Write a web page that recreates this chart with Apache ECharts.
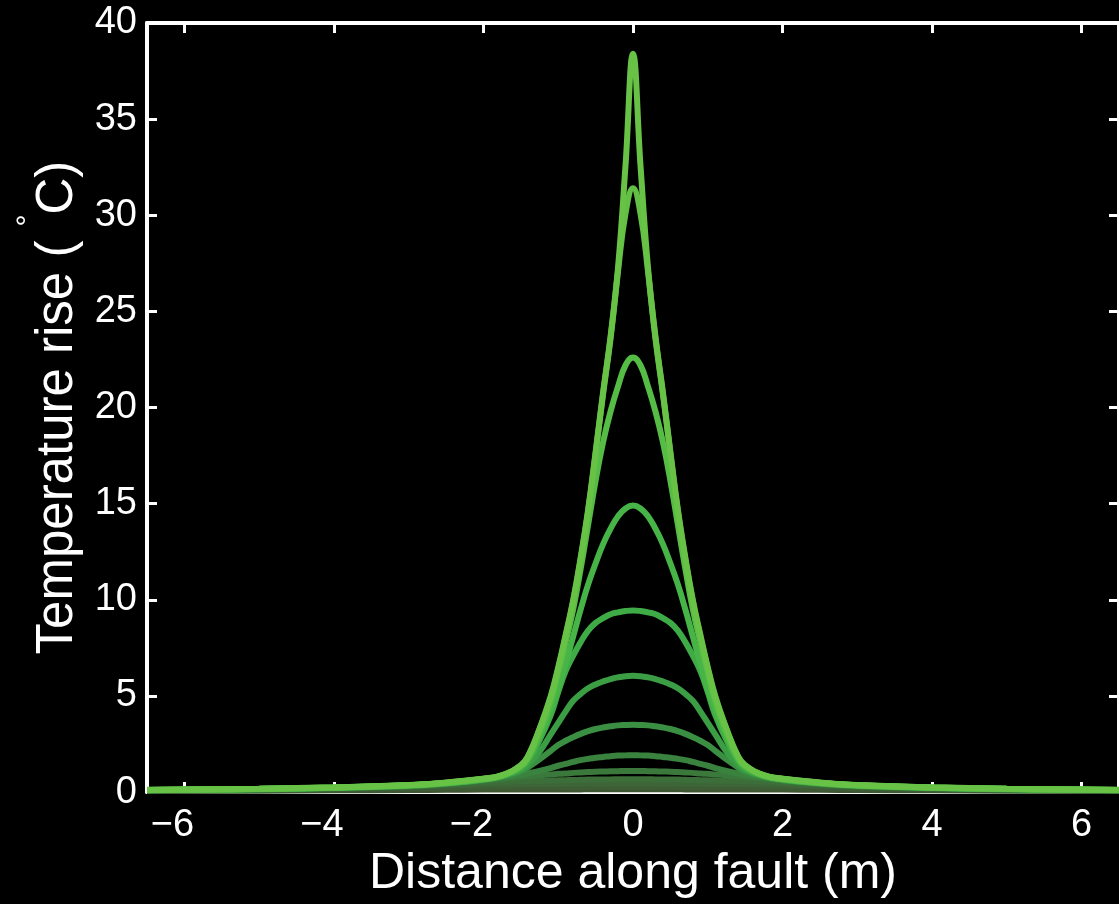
<!DOCTYPE html>
<html>
<head>
<meta charset="utf-8">
<script src="https://cdn.jsdelivr.net/npm/echarts@6/dist/echarts.min.js"></script>
<style>
html, body { margin: 0; padding: 0; background: #000; }
#chart { width: 1119px; height: 904px; }
</style>
</head>
<body>
<div id="chart"></div>
<script>
// distance along fault (m), shared by every profile
var xs = [-6.5,-5,-4,-3,-2.5,-2,-1.75,-1.5,-1.4,-1.25,-1.1,-1,-0.9,-0.8,-0.7,-0.6,-0.5,-0.4,-0.3,-0.2,-0.1,0,0.1,0.2,0.3,0.4,0.5,0.6,0.7,0.8,0.9,1,1.1,1.25,1.4,1.5,1.75,2,2.5,3,4,5,6.5]

// temperature rise profiles (deg C), smallest first
var t13 = [0.06,0.07,0.09,0.11,0.12,0.13,0.13,0.14,0.14,0.14,0.14,0.14,0.14,0.14,0.14,0.15,0.15,0.15,0.15,0.15,0.15,0.15,0.15,0.15,0.15,0.15,0.15,0.15,0.14,0.14,0.14,0.14,0.14,0.14,0.14,0.14,0.13,0.13,0.12,0.11,0.09,0.07,0.06]
var t12 = [0.08,0.11,0.15,0.2,0.23,0.25,0.25,0.26,0.26,0.26,0.26,0.27,0.27,0.27,0.27,0.27,0.28,0.28,0.28,0.28,0.28,0.28,0.28,0.28,0.28,0.28,0.28,0.27,0.27,0.27,0.27,0.27,0.26,0.26,0.26,0.26,0.25,0.25,0.23,0.2,0.15,0.11,0.08]
var t11 = [0.09,0.13,0.19,0.27,0.33,0.38,0.4,0.41,0.41,0.42,0.42,0.42,0.43,0.43,0.43,0.44,0.44,0.44,0.45,0.45,0.45,0.45,0.45,0.45,0.45,0.44,0.44,0.44,0.43,0.43,0.43,0.42,0.42,0.42,0.41,0.41,0.4,0.38,0.33,0.27,0.19,0.13,0.09]
var t10 = [0.09,0.14,0.2,0.3,0.4,0.5,0.54,0.57,0.58,0.59,0.6,0.61,0.62,0.63,0.64,0.65,0.65,0.66,0.66,0.67,0.67,0.67,0.67,0.67,0.66,0.66,0.65,0.65,0.64,0.63,0.62,0.61,0.6,0.59,0.58,0.57,0.54,0.5,0.4,0.3,0.2,0.14,0.09]
var t9 = [0.09,0.14,0.21,0.31,0.43,0.6,0.7,0.8,0.83,0.88,0.92,0.95,0.97,1.0,1.02,1.04,1.06,1.07,1.08,1.09,1.1,1.1,1.1,1.09,1.08,1.07,1.06,1.04,1.02,1.0,0.97,0.95,0.92,0.88,0.83,0.8,0.7,0.6,0.43,0.31,0.21,0.14,0.09]
var t8 = [0.1,0.15,0.21,0.32,0.44,0.62,0.76,0.9,0.98,1.1,1.25,1.37,1.47,1.57,1.66,1.73,1.79,1.83,1.87,1.9,1.91,1.92,1.91,1.9,1.87,1.83,1.79,1.73,1.66,1.57,1.47,1.37,1.25,1.1,0.98,0.9,0.76,0.62,0.44,0.32,0.21,0.15,0.1]
var t7 = [0.1,0.15,0.22,0.33,0.45,0.64,0.8,1.08,1.3,1.7,2.15,2.45,2.67,2.86,3.03,3.17,3.28,3.36,3.42,3.47,3.49,3.5,3.49,3.47,3.42,3.36,3.28,3.17,3.03,2.86,2.67,2.45,2.15,1.7,1.3,1.08,0.8,0.64,0.45,0.33,0.22,0.15,0.1]
var t6 = [0.1,0.16,0.22,0.34,0.46,0.65,0.83,1.15,1.45,2.1,3.0,3.6,4.2,4.75,5.1,5.4,5.6,5.75,5.88,5.97,6.03,6.05,6.03,5.97,5.88,5.75,5.6,5.4,5.1,4.75,4.2,3.6,3.0,2.1,1.45,1.15,0.83,0.65,0.46,0.34,0.22,0.16,0.1]
var t5 = [0.11,0.16,0.23,0.34,0.46,0.66,0.84,1.25,1.65,2.7,4.0,5.2,6.3,7.1,7.8,8.4,8.8,9.05,9.25,9.35,9.42,9.45,9.42,9.35,9.25,9.05,8.8,8.4,7.8,7.1,6.3,5.2,4.0,2.7,1.65,1.25,0.84,0.66,0.46,0.34,0.23,0.16,0.11]
var t4 = [0.11,0.16,0.23,0.35,0.47,0.67,0.85,1.3,1.75,2.9,4.3,5.4,6.7,8.1,9.5,10.8,11.9,12.9,13.7,14.35,14.75,14.9,14.75,14.35,13.7,12.9,11.9,10.8,9.5,8.1,6.7,5.4,4.3,2.9,1.75,1.3,0.85,0.67,0.47,0.35,0.23,0.16,0.11]
var t3 = [0.11,0.17,0.24,0.35,0.48,0.68,0.86,1.35,1.8,3.1,4.7,6.2,7.8,9.5,11.6,13.9,16.2,18.2,19.8,21.1,22.2,22.6,22.2,21.1,19.8,18.2,16.2,13.9,11.6,9.5,7.8,6.2,4.7,3.1,1.8,1.35,0.86,0.68,0.48,0.35,0.24,0.17,0.11]
var t2 = [0.11,0.17,0.24,0.36,0.49,0.69,0.87,1.38,1.88,3.25,4.9,6.4,8.1,9.9,12.1,14.6,17.6,20.7,23.6,27.1,30.1,31.4,30.1,27.1,23.6,20.7,17.6,14.6,12.1,9.9,8.1,6.4,4.9,3.25,1.88,1.38,0.87,0.69,0.49,0.36,0.24,0.17,0.11]
var t1 = [0.12,0.18,0.25,0.37,0.5,0.7,0.88,1.4,1.9,3.3,5.0,6.5,8.2,10.0,12.2,14.7,17.7,20.8,23.7,27.3,32.6,38.4,32.6,27.3,23.7,20.8,17.7,14.7,12.2,10.0,8.2,6.5,5.0,3.3,1.9,1.4,0.88,0.7,0.5,0.37,0.25,0.18,0.12]

var profiles = [t13, t12, t11, t10, t9, t8, t7, t6, t5, t4, t3, t2, t1]
var colors = ['#3f5633', '#3e5d35', '#3d6537', '#3c6e39', '#3b783c', '#3a833f', '#3a8f42', '#3b9e45', '#3fab47', '#47b447', '#55bc46', '#62c045', '#67c246']

var xTicks = [-6, -4, -2, 0, 2, 4, 6]

var font = '"Liberation Sans", Arial, Helvetica, sans-serif'

function tickLabel(v) {
	// matlab prints a real minus sign, and centres the digits rather than the whole label
	if (v < 0) return '{n|\u2212' + Math.abs(v) + '}'
	return String(v)
}

function getSeries() {
	var arr = []
	for (var i = 0; i < profiles.length; i++) {
		var pts = []
		for (var j = 0; j < xs.length; j++) {
			pts.push([xs[j], profiles[i][j]])
		}
		arr.push({
			type: 'line',
			data: pts,
			smooth: 0.45,
			showSymbol: false,
			z: 2 + i,
			lineStyle: { color: colors[i], width: 6 }
		})
	}
	return arr
}

var axisLine = { show: true, onZero: false, lineStyle: { color: '#fff', width: 4 } }
var axisTick = { show: true, inside: true, length: 10, lineStyle: { color: '#fff', width: 3 } }

var chart = echarts.init(document.getElementById('chart'))
chart.setOption({
	backgroundColor: '#000',
	animation: false,
	grid: { left: 147, top: 23, width: 980, height: 772, containLabel: false },
	xAxis: [
		{
			type: 'value',
			min: -6.5,
			max: 6.5,
			position: 'bottom',
			axisLine: axisLine,
			axisTick: Object.assign({ customValues: xTicks }, axisTick),
			splitLine: { show: false },
			axisLabel: {
				customValues: xTicks,
				color: '#fff',
				fontSize: 38,
				fontFamily: font,
				margin: 14,
				formatter: tickLabel,
				rich: {
					n: { color: '#fff', fontSize: 38, fontFamily: font, padding: [0, 24, 0, 0] }
				}
			},
			name: 'Distance along fault (m)',
			nameLocation: 'middle',
			nameGap: 48,
			nameTextStyle: { color: '#fff', fontSize: 50, fontFamily: font }
		},
		{
			type: 'value',
			min: -6.5,
			max: 6.5,
			position: 'top',
			axisLine: axisLine,
			axisTick: Object.assign({ customValues: xTicks }, axisTick),
			axisLabel: { show: false },
			splitLine: { show: false }
		}
	],
	yAxis: [
		{
			type: 'value',
			min: 0,
			max: 40,
			interval: 5,
			position: 'left',
			axisLine: axisLine,
			axisTick: axisTick,
			splitLine: { show: false },
			axisLabel: { color: '#fff', fontSize: 38, fontFamily: font, margin: 10 },
			name: '{t|Temperature rise ( }{d|°}{t|C)}',
			nameLocation: 'middle',
			nameRotate: 90,
			nameGap: 62,
			nameTextStyle: {
				color: '#fff',
				fontFamily: font,
				rich: {
					t: { fontSize: 51, fontFamily: font, color: '#fff', lineHeight: 70, verticalAlign: 'bottom' },
					d: { fontSize: 30, fontFamily: font, color: '#fff', lineHeight: 30, verticalAlign: 'top' }
				}
			}
		},
		{
			type: 'value',
			min: 0,
			max: 40,
			interval: 5,
			position: 'right',
			axisLine: axisLine,
			axisTick: axisTick,
			axisLabel: { show: false },
			splitLine: { show: false }
		}
	],
	series: getSeries()
})
</script>
</body>
</html>
